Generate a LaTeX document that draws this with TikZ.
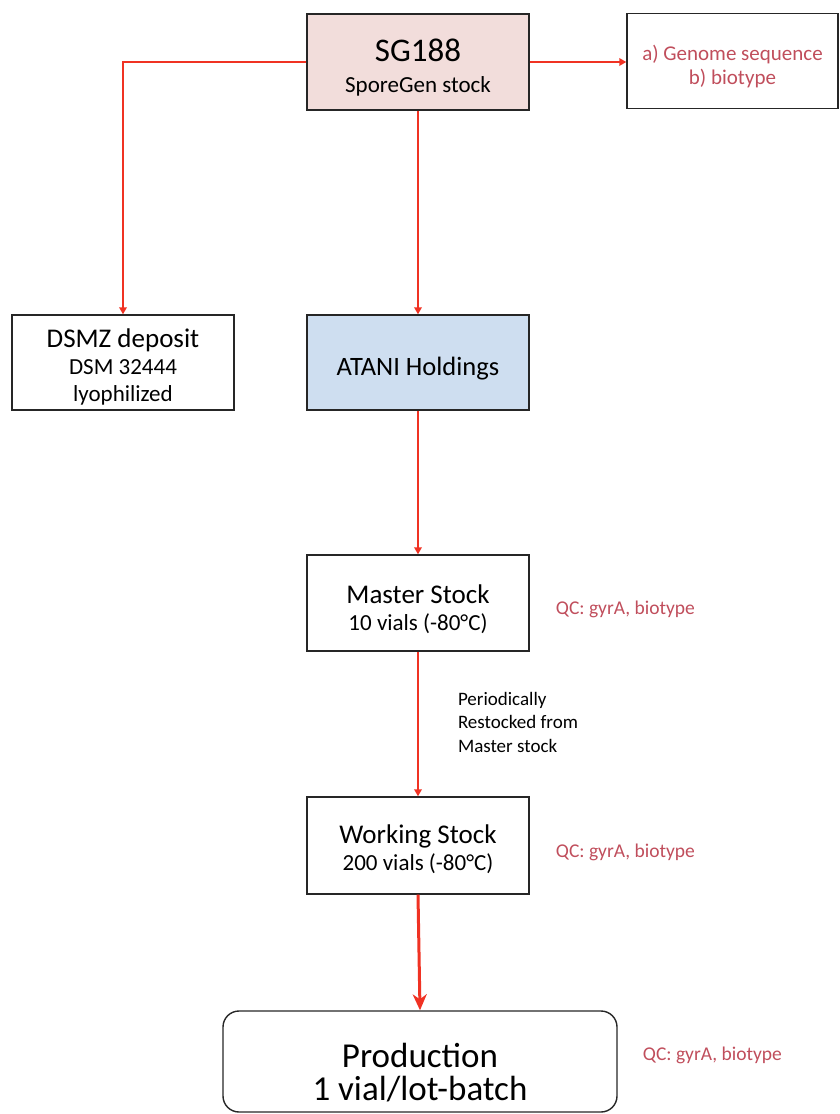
\documentclass[tikz,border=0pt]{standalone}
\usepackage{fontspec}
\setmainfont{Carlito}
\usetikzlibrary{arrows.meta,positioning}
\definecolor{arrowred}{RGB}{240,50,35}
\definecolor{qcred}{RGB}{192,78,92}
\definecolor{sgpink}{RGB}{242,221,219}
\definecolor{atblue}{RGB}{206,222,240}
\newcommand{\setsz}[1]{\fontsize{#1}{#1}\selectfont}
\newcommand{\pad}[1]{\rule{0pt}{#1pt}}
\tikzset{
  box/.style={draw=black!85, line width=1.4pt, minimum width=222pt,
    minimum height=96pt, inner sep=0pt, align=center},
  link/.style={draw=arrowred, line width=2pt,
    -{Triangle[length=7pt,width=7.5pt]}},
  qc/.style={text=qcred, font=\setsz{19.5}, inner sep=0pt, anchor=west},
}
\begin{document}
\begin{tikzpicture}[x=1pt,y=-1pt]
  \useasboundingbox (0,0) rectangle (840,1114);
  \draw
    (418,62) node[box, fill=sgpink, font=\fontsize{23}{31.5}\selectfont] (sg)
      {\pad{34}{\setsz{33}SG188}\\SporeGen stock}
    (732.5,61) node[box, minimum width=211pt, minimum height=95pt] (genome){}
    (732.5,66.5) node[text=qcred, font=\fontsize{21}{24}\selectfont, align=center,
      inner sep=0pt] (genometxt)
      {a) Genome sequence\\b) biotype}
    (123,362.5) node[box, minimum height=95pt, font=\fontsize{23}{27}\selectfont] (dsmz)
      {\pad{28}{\setsz{27}DSMZ deposit}\\DSM 32444\\lyophilized}
    (418,362.5) node[box, fill=atblue, minimum height=95pt] (atani)
      {\pad{31}\setsz{26.5}ATANI Holdings}
    (418,603) node[box, font=\fontsize{23}{27}\selectfont] (master)
      {\pad{32}{\setsz{27}Master Stock}\\10 vials (-80°C)}
    (418,845.5) node[box, minimum height=97pt, font=\fontsize{23}{27}\selectfont] (working)
      {\pad{27}{\setsz{27}Working Stock}\\200 vials (-80°C)}
    (420,1061.5) node[box, rounded corners=16pt, minimum width=394pt,
      minimum height=101pt, font=\fontsize{35}{33}\selectfont] (prod)
      {\pad{46}Production\\1 vial/lot-batch};
  \node[qc, right=26pt of master, yshift=-6pt] (qcmaster) {QC: gyrA, biotype};
  \node[qc, right=26pt of working, yshift=-7pt] (qcworking) {QC: gyrA, biotype};
  \node[qc, right=25pt of prod, yshift=6pt] (qcprod) {QC: gyrA, biotype};
  \begin{scope}[link]
    \draw (sg.east) -- (sg.east -| genome.west);
    \draw (sg.west) -| (dsmz.north);
    \draw (sg.south) -- (atani.north);
    \draw (atani.south) -- (master.north);
    \draw (master.south) -- (working.north)
      node[midway, right=39pt, anchor=west, align=left,
        font=\fontsize{19}{23.5}\selectfont, inner sep=0pt, yshift=2pt] (restock)
      {Periodically\\Restocked from\\Master stock};
    \draw[line width=3pt, -{Stealth[length=16pt,width=14pt,inset=5pt]}]
      (working.south) -- (prod.north);
  \end{scope}
\end{tikzpicture}
\end{document}
